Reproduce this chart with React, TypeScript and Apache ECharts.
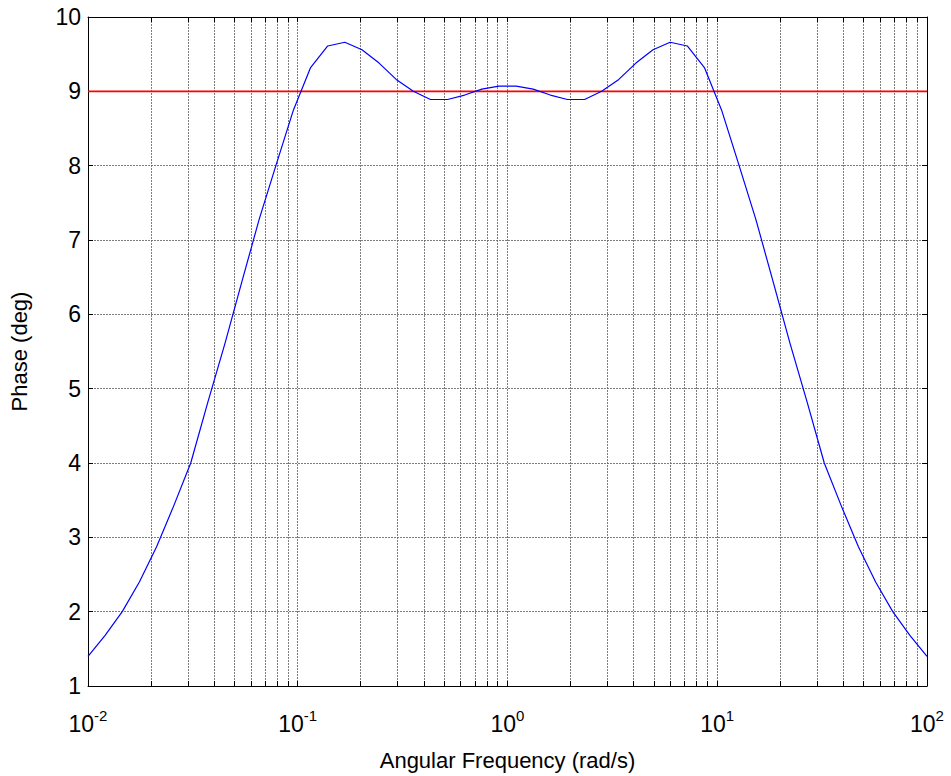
import React, { useEffect, useRef } from 'react';
import * as echarts from 'echarts';

// Frequencies (rad/s), 50 log-spaced samples from 1e-2 to 1e2
const freqs = [
  0.01, 0.012068, 0.014563, 0.017575, 0.02121, 0.025595, 0.030888, 0.037276, 0.044984, 0.054287,
  0.065513, 0.07906, 0.09541, 0.11514, 0.13895, 0.16768, 0.20236, 0.24421, 0.29471, 0.35565,
  0.42919, 0.51795, 0.62506, 0.75431, 0.9103, 1.0985, 1.3257, 1.5999, 1.9307, 2.33,
  2.8118, 3.3932, 4.0949, 4.9417, 5.9636, 7.1969, 8.6851, 10.481, 12.649, 15.264,
  18.421, 22.23, 26.827, 32.375, 39.069, 47.149, 56.899, 68.665, 82.864, 100,
];

// Phase (deg)
const phaseDeg = [
  1.40, 1.68, 2.00, 2.40, 2.87, 3.42, 4.00, 4.82, 5.61, 6.45,
  7.28, 8.02, 8.75, 9.32, 9.61, 9.66, 9.56, 9.38, 9.16, 9.00,
  8.89, 8.89, 8.95, 9.03, 9.07, 9.07, 9.03, 8.95, 8.89, 8.89,
  9.00, 9.16, 9.38, 9.56, 9.66, 9.61, 9.32, 8.75, 8.02, 7.28,
  6.45, 5.61, 4.82, 4.00, 3.42, 2.87, 2.40, 2.00, 1.68, 1.40,
];

const refPhase = 9;

// Minor log grid positions
const minorGridFreqs = [
  0.02, 0.03, 0.04, 0.05, 0.06, 0.07, 0.08, 0.09,
  0.2, 0.3, 0.4, 0.5, 0.6, 0.7, 0.8, 0.9,
  2, 3, 4, 5, 6, 7, 8, 9,
  20, 30, 40, 50, 60, 70, 80, 90,
];

const xMin = 0.01;
const xMax = 100;
const yMin = 1;
const yMax = 10;

export default function App() {
  const ref = useRef<HTMLDivElement>(null);

  useEffect(() => {
    const chart = echarts.init(ref.current!, null, { renderer: 'svg' });
    const font = 'Liberation Sans, Arial, Helvetica, sans-serif';
    const gridColor = '#666666';
    const gridDash = [2, 1];
    const gridLine = { color: gridColor, type: gridDash as any, width: 1, opacity: 0.85 };
    const expLabel = (v: number) => {
      const e = Math.round(Math.log10(v));
      return `{b|10}{s|${e}}`;
    };
    const crisp = (v: number) => Math.round(v - 0.5) + 0.5;

    const renderItem = (params: any, api: any) => {
      const v = api.value(0);
      const b = api.coord([v, yMin]);
      const t = api.coord([v, yMax]);
      const x = crisp(b[0]);
      return {
        type: 'group',
        children: [
          {
            type: 'line',
            shape: { x1: x, y1: b[1], x2: x, y2: t[1] },
            style: { stroke: gridColor, lineWidth: 1, lineDash: gridDash, opacity: 0.85 },
          },
          {
            type: 'line',
            shape: { x1: x, y1: b[1], x2: x, y2: b[1] - 5 },
            style: { stroke: '#000', lineWidth: 1 },
          },
          {
            type: 'line',
            shape: { x1: x, y1: t[1], x2: x, y2: t[1] + 5 },
            style: { stroke: '#000', lineWidth: 1 },
          },
        ],
      };
    };

    chart.setOption({
      animation: false,
      backgroundColor: '#ffffff',
      textStyle: { fontFamily: font },
      grid: { left: 86, right: 24, top: 17, bottom: 86 },
      xAxis: [
        {
          type: 'log',
          logBase: 10,
          min: xMin,
          max: xMax,
          position: 'bottom',
          axisLine: { show: true, onZero: false, lineStyle: { color: '#000', width: 1 } },
          axisTick: { show: true, inside: true, length: 5, lineStyle: { color: '#000' } },
          splitLine: { show: true, lineStyle: gridLine },
          axisLabel: {
            formatter: expLabel,
            margin: 22,
            color: '#000',
            rich: {
              b: { fontSize: 23, fontFamily: font, color: '#000' },
              s: { fontSize: 15, fontFamily: font, color: '#000', padding: [0, 0, 16, 0] },
            },
          },
          name: 'Angular Frequency (rad/s)',
          nameLocation: 'middle',
          nameGap: 63,
          nameTextStyle: { fontSize: 22, fontFamily: font, color: '#000' },
        },
        {
          type: 'log',
          logBase: 10,
          min: xMin,
          max: xMax,
          position: 'top',
          axisLine: { show: true, onZero: false, lineStyle: { color: '#000', width: 1 } },
          axisTick: { show: true, inside: true, length: 5, lineStyle: { color: '#000' } },
          axisLabel: { show: false },
          splitLine: { show: false },
        },
      ],
      yAxis: [
        {
          type: 'value',
          min: yMin,
          max: yMax,
          interval: 1,
          axisLine: { show: true, onZero: false, lineStyle: { color: '#000', width: 1 } },
          axisTick: { show: true, inside: true, length: 5, lineStyle: { color: '#000' } },
          splitLine: { show: true, lineStyle: gridLine },
          axisLabel: { fontSize: 23, fontFamily: font, color: '#000', margin: 7 },
          name: 'Phase (deg)',
          nameLocation: 'middle',
          nameGap: 58,
          nameRotate: 90,
          nameTextStyle: { fontSize: 22, fontFamily: font, color: '#000' },
        },
        {
          type: 'value',
          position: 'right',
          min: yMin,
          max: yMax,
          interval: 1,
          axisLine: { show: true, onZero: false, lineStyle: { color: '#000', width: 1 } },
          axisTick: { show: true, inside: true, length: 5, lineStyle: { color: '#000' } },
          axisLabel: { show: false },
          splitLine: { show: false },
        },
      ],
      series: [
        {
          type: 'custom',
          renderItem,
          data: minorGridFreqs.map((f) => [f, yMin]),
          silent: true,
          z: 1,
        },
        {
          type: 'line',
          data: [[xMin, refPhase], [xMax, refPhase]],
          symbol: 'none',
          lineStyle: { color: '#ff0000', width: 1.6 },
          itemStyle: { color: '#ff0000' },
          z: 5,
        },
        {
          type: 'line',
          data: freqs.map((f, i) => [f, phaseDeg[i]]),
          symbol: 'none',
          lineStyle: { color: '#0000ff', width: 1.2 },
          itemStyle: { color: '#0000ff' },
          z: 6,
        },
      ],
    });
    return () => chart.dispose();
  }, []);

  return (
    <div
      ref={ref}
      style={{ position: 'fixed', left: 0, top: 0, width: 951, height: 776, background: '#fff' }}
    />
  );
}
